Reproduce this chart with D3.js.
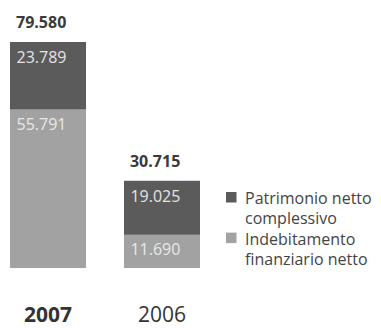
<!DOCTYPE html>
<html><head><meta charset="utf-8">
<script src="https://cdn.jsdelivr.net/npm/d3@7"></script>
<style>
html,body{margin:0;padding:0;background:#fff;}
svg{display:block;font-family:"Open Sans",sans-serif;}
</style></head>
<body>
<svg id="chart" width="381" height="328"></svg>
<script>
const years = ["2007", "2006"];
const patrimonio = [23789, 19025];
const indebitamento = [55791, 11690];
const totals = [79580, 30715];
const patrimonioLabels = ["23.789", "19.025"];
const indebitamentoLabels = ["55.791", "11.690"];
const totalLabels = ["79.580", "30.715"];
const legendLabels = [["Patrimonio netto", "complessivo"], ["Indebitamento", "finanziario netto"]];

const colDark = "#5b5b5b", colLight = "#a2a2a2";
const svg = d3.select("#chart");

const x = d3.scaleBand().domain(years).range([10, 200]).paddingInner(0.333).paddingOuter(0);
const y = d3.scaleLinear().domain([0, 79580]).range([268, 42]);

const data = years.map((yr, i) => ({yr, p: patrimonio[i], d: indebitamento[i], t: totals[i],
  pl: patrimonioLabels[i], dl: indebitamentoLabels[i], tl: totalLabels[i], bold: i === 0}));

const g = svg.selectAll("g.bar").data(data).join("g").attr("class", "bar");
g.append("rect").attr("x", d => x(d.yr)).attr("width", x.bandwidth())
  .attr("y", d => y(d.d)).attr("height", d => y(0) - y(d.d)).attr("fill", colLight);
g.append("rect").attr("x", d => x(d.yr)).attr("width", x.bandwidth())
  .attr("y", d => y(d.d + d.p)).attr("height", d => y(d.d) - y(d.d + d.p)).attr("fill", colDark);

g.append("text").attr("x", d => x(d.yr) + 6).attr("y", d => y(d.t) - 14)
  .attr("font-size", 16).attr("font-weight", 700).attr("fill", "#3a3a3a").text(d => d.tl);
g.append("text").attr("x", d => x(d.yr) + 6.5).attr("y", d => y(d.d + d.p) + 21)
  .attr("font-size", 16).attr("fill", "#e4e4e4").text(d => d.pl);
g.append("text").attr("x", d => x(d.yr) + 6.5).attr("y", d => y(d.d) + 20)
  .attr("font-size", 16).attr("fill", "#e8e8e8").text(d => d.dl);
g.append("text").attr("x", d => x(d.yr) + x.bandwidth() / 2).attr("y", 322)
  .attr("text-anchor", "middle").attr("font-size", 21)
  .attr("font-weight", d => d.bold ? 700 : 400).attr("fill", "#333").text(d => d.yr);

// legend
const lg = svg.append("g").attr("transform", "translate(226,204)");
const colors = [colDark, colLight];
legendLabels.forEach((lines, i) => {
  const yy = i * 40.6;
  lg.append("rect").attr("x", 0).attr("y", yy - 12).attr("width", 10.5).attr("height", 10.5).attr("fill", colors[i]);
  lines.forEach((t, j) => {
    lg.append("text").attr("x", 19).attr("y", yy + j * 20.3).attr("font-size", 16)
      .attr("fill", "#444").text(t);
  });
});
</script>
</body></html>
